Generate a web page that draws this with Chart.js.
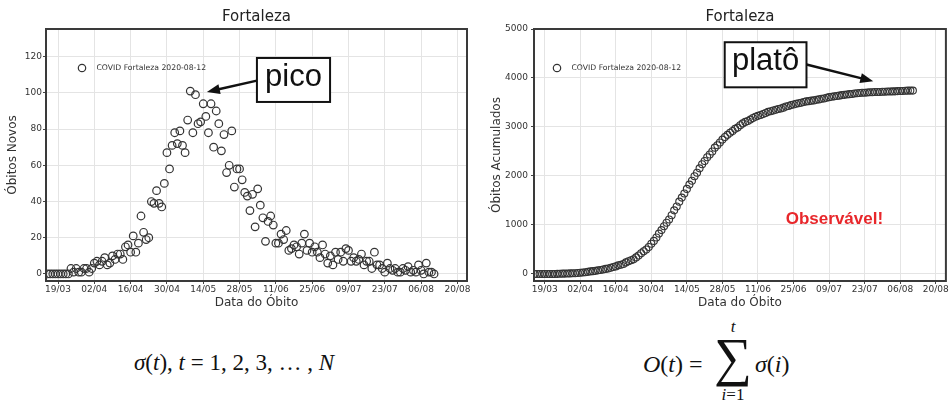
<!DOCTYPE html>
<html>
<head>
<meta charset="utf-8">
<script src="https://cdn.jsdelivr.net/npm/chart.js@4.4.1/dist/chart.umd.min.js"></script>
<style>
    html, body { margin: 0; padding: 0; background: #fff; }
    #page { position: relative; width: 951px; height: 400px; overflow: hidden; }
    canvas { position: absolute; top: 0; }
    #leftChart { left: 0; }
    #rightChart { left: 475px; }
    .formula {
        position: absolute;
        font-family: 'Liberation Serif', 'DejaVu Serif', serif;
        font-size: 23px;
        line-height: 1;
        color: #111;
        white-space: nowrap;
    }
    #formulaLeft { left: 134px; top: 351px; }
    #fO { left: 643px; top: 352px; font-size: 24px; }
    #fSigma { left: 711px; top: 331px; font-size: 53px; width: 44px; text-align: center; }
    #fTop { left: 711px; top: 318px; font-size: 17px; width: 44px; text-align: center; }
    #fBottom { left: 711px; top: 386px; font-size: 17px; width: 44px; text-align: center; }
    #fS { left: 755px; top: 352px; font-size: 24px; }
</style>
</head>
<body>
<div id="page">
    <canvas id="leftChart" width="475" height="310"></canvas>
    <canvas id="rightChart" width="476" height="310"></canvas>
    <div class="formula" id="formulaLeft"><i>σ</i>(<i>t</i>), <i>t</i> = 1, 2, 3, … , <i>N</i></div>
    <div class="formula" id="fO"><i>O</i>(<i>t</i>) =</div>
    <div class="formula" id="fTop"><i>t</i></div>
    <div class="formula" id="fSigma">∑</div>
    <div class="formula" id="fBottom"><i>i</i>=1</div>
    <div class="formula" id="fS"><i>σ</i>(<i>i</i>)</div>
</div>
<script>
// ---- data (days counted from 19/03/2020) ----
var firstDay = -4;
var tickDays = [0, 14, 28, 42, 56, 70, 84, 98, 112, 126, 140, 154];
var tickLabels = ['19/03', '02/04', '16/04', '30/04', '14/05', '28/05', '11/06', '25/06', '09/07', '23/07', '06/08', '20/08'];
var dailyTicks = [0, 20, 40, 60, 80, 100, 120];
var cumulativeTicks = [0, 1000, 2000, 3000, 4000, 5000];
var seriesLabel = 'COVID Fortaleza 2020-08-12';

var dailyDeaths = [
    0, 0, 0, 0, 0, 0, 0, 0, 0,
    3, 1, 3, 1, 1, 3, 3, 1, 3,
    6, 7, 5, 7, 9, 5, 6,
    10, 8, 11, 11, 8, 15, 16,
    12, 21, 12, 17, 32, 23, 19, 20,
    40, 39, 46, 39, 37, 50, 67, 58,
    71, 78, 72, 79, 71, 67, 85, 101,
    78, 99, 83, 84, 94, 87, 78, 94,
    70, 90, 83, 68, 77, 56, 60, 79,
    48, 58, 58, 52, 45, 43, 35, 44,
    26, 47, 38, 31, 18, 29, 32, 27,
    17, 17, 22, 19, 24, 13, 14, 16,
    15, 11, 17, 22, 13, 17, 12, 15,
    12, 9, 16, 11, 6, 10, 5, 12,
    8, 12, 7, 14, 13, 7, 9, 7,
    8, 11, 5, 7, 7, 3, 12, 5,
    5, 3, 1, 6, 3, 2, 3, 1,
    1, 3, 2, 4, 1, 2, 1, 5,
    2, 0, 6, 1, 1, 0
];

var cumulativeDeaths = [
    0, 0, 0, 0, 0, 0, 0, 0, 0,
    3, 4, 7, 8, 9, 12, 15, 16, 19,
    25, 32, 37, 44, 53, 58, 64,
    74, 82, 93, 104, 112, 127, 143,
    155, 176, 188, 205, 237, 260, 279, 299,
    339, 378, 424, 463, 500, 550, 617, 675,
    746, 824, 896, 975, 1046, 1113, 1198, 1299,
    1377, 1476, 1559, 1643, 1737, 1824, 1902, 1996,
    2066, 2156, 2239, 2307, 2384, 2440, 2500, 2579,
    2627, 2685, 2743, 2795, 2840, 2883, 2918, 2962,
    2988, 3035, 3073, 3104, 3122, 3151, 3183, 3210,
    3227, 3244, 3266, 3285, 3309, 3322, 3336, 3352,
    3367, 3378, 3395, 3417, 3430, 3447, 3459, 3474,
    3486, 3495, 3511, 3522, 3528, 3538, 3543, 3555,
    3563, 3575, 3582, 3596, 3609, 3616, 3625, 3632,
    3640, 3651, 3656, 3663, 3670, 3673, 3685, 3690,
    3695, 3698, 3699, 3705, 3708, 3710, 3713, 3714,
    3715, 3718, 3720, 3724, 3725, 3727, 3728, 3733,
    3735, 3735, 3741, 3742, 3743, 3743
];

Chart.defaults.font.family = 'DejaVu Sans';
Chart.defaults.color = '#333';
Chart.defaults.animation = false;

function toPoints(values) {
    return values.map(function (v, i) { return { x: firstDay + i, y: v }; });
}

// frame round the plot area (matplotlib box)
var framePlugin = {
    id: 'frame',
    afterDraw: function (chart) {
        var a = chart.chartArea, ctx = chart.ctx;
        ctx.save();
        ctx.strokeStyle = '#3a3a3a';
        ctx.lineWidth = 2;
        ctx.strokeRect(a.left, a.top, a.right - a.left, a.bottom - a.top);
        ctx.restore();
    }
};

// legend inside the axes + boxed notes with arrows
var notesPlugin = {
    id: 'notes',
    afterDraw: function (chart, args, opts) {
        var ctx = chart.ctx, a = chart.chartArea;
        var xs = chart.scales.x, ys = chart.scales.y;
        ctx.save();

        // legend
        var lx = a.left + opts.legend.dx, ly = a.top + opts.legend.dy;
        ctx.strokeStyle = '#333';
        ctx.lineWidth = 1.2;
        ctx.beginPath();
        ctx.arc(lx, ly, 3.7, 0, Math.PI * 2);
        ctx.stroke();
        ctx.fillStyle = '#333';
        ctx.font = '7.7px "DejaVu Sans"';
        ctx.textBaseline = 'middle';
        ctx.textAlign = 'left';
        ctx.fillText(seriesLabel, lx + 14.5, ly + 0.5);

        // box with big word
        var b = opts.box;
        var x0 = xs.getPixelForValue(b.x0), x1 = xs.getPixelForValue(b.x1);
        var y0 = ys.getPixelForValue(b.y0), y1 = ys.getPixelForValue(b.y1);
        ctx.fillStyle = '#fff';
        ctx.fillRect(x0, y1, x1 - x0, y0 - y1);
        ctx.strokeStyle = '#111';
        ctx.lineWidth = 2;
        ctx.strokeRect(x0, y1, x1 - x0, y0 - y1);
        ctx.fillStyle = '#111';
        ctx.font = '31px "Liberation Sans", Arial, sans-serif';
        ctx.textAlign = 'center';
        ctx.textBaseline = 'middle';
        ctx.fillText(b.text, (x0 + x1) / 2, (y0 + y1) / 2 - 3);

        // arrow
        var ar = opts.arrow;
        var sx = xs.getPixelForValue(ar.x0), sy = ys.getPixelForValue(ar.y0);
        var tx = xs.getPixelForValue(ar.x1), ty = ys.getPixelForValue(ar.y1);
        var ang = Math.atan2(ty - sy, tx - sx);
        var head = 13, half = 5;
        ctx.strokeStyle = '#111';
        ctx.lineWidth = 2.5;
        ctx.beginPath();
        ctx.moveTo(sx, sy);
        ctx.lineTo(tx - Math.cos(ang) * (head - 2), ty - Math.sin(ang) * (head - 2));
        ctx.stroke();
        ctx.beginPath();
        ctx.moveTo(tx, ty);
        ctx.lineTo(tx - Math.cos(ang) * head - Math.sin(ang) * half, ty - Math.sin(ang) * head + Math.cos(ang) * half);
        ctx.lineTo(tx - Math.cos(ang) * head + Math.sin(ang) * half, ty - Math.sin(ang) * head - Math.cos(ang) * half);
        ctx.closePath();
        ctx.fill();

        // extra red word
        if (opts.mark) {
            ctx.fillStyle = '#e8272b';
            ctx.font = 'bold 17px "Liberation Sans", Arial, sans-serif';
            ctx.fillText(opts.mark.text, xs.getPixelForValue(opts.mark.x), ys.getPixelForValue(opts.mark.y));
        }
        ctx.restore();
    }
};

function xAxis(min, max) {
    return {
        type: 'linear', min: min, max: max,
        afterBuildTicks: function (s) { s.ticks = tickDays.map(function (d) { return { value: d }; }); },
        afterFit: function (s) { s.height = 29; },
        ticks: {
            callback: function (v, i) { return tickLabels[i]; },
            font: { size: 9 }, color: '#333', padding: 0, maxRotation: 0, autoSkip: false
        },
        grid: { color: '#e4e4e4', tickLength: 3, tickColor: '#444' },
        border: { display: false },
        title: { display: true, text: 'Data do Óbito', font: { size: 12 }, color: '#333', padding: { top: 0, bottom: 0 } }
    };
}

function yAxis(min, max, ticks, label, width, titlePad, tickPad) {
    return {
        type: 'linear', min: min, max: max,
        afterBuildTicks: function (s) { s.ticks = ticks.map(function (v) { return { value: v }; }); },
        afterFit: function (s) { s.width = width; },
        ticks: {
            callback: function (v) { return String(v); },
            font: { size: 9 }, color: '#333', padding: tickPad
        },
        grid: { color: '#e4e4e4', tickLength: 3, tickColor: '#444' },
        border: { display: false },
        title: { display: true, text: label, font: { size: 12 }, color: '#333', padding: { top: titlePad, bottom: 0 } }
    };
}

function titleOpts() {
    return {
        display: true, text: 'Fortaleza', fullSize: false,
        font: { size: 15, weight: 'normal' }, color: '#222',
        padding: { top: 8, bottom: 3 }
    };
}

// ---- Left: daily deaths ----
new Chart(document.getElementById('leftChart'), {
    type: 'scatter',
    data: {
        datasets: [{
            label: seriesLabel,
            data: toPoints(dailyDeaths),
            pointRadius: 3.8,
            pointBorderWidth: 1.2,
            borderColor: '#333',
            backgroundColor: 'rgba(0,0,0,0)'
        }]
    },
    options: {
        responsive: false,
        layout: { padding: { left: 0, right: 8, top: 0, bottom: 0 } },
        plugins: {
            legend: { display: false },
            tooltip: { enabled: false },
            title: titleOpts(),
            notes: {
                legend: { dx: 36, dy: 39 },
                box: { text: 'pico', x0: 76.7, x1: 104.9, y0: 95, y1: 119.3 },
                arrow: { x0: 76.7, y0: 106.8, x1: 57.4, y1: 100.5 }
            }
        },
        scales: {
            x: xAxis(-4.63, 157.7),
            y: yAxis(-3.9, 135.3, dailyTicks, 'Óbitos Novos', 46, 6, 1)
        }
    },
    plugins: [framePlugin, notesPlugin]
});

// ---- Right: cumulative deaths ----
new Chart(document.getElementById('rightChart'), {
    type: 'scatter',
    data: {
        datasets: [{
            label: seriesLabel,
            data: toPoints(cumulativeDeaths),
            pointRadius: 3.5,
            pointBorderWidth: 1.1,
            borderColor: '#333',
            backgroundColor: 'rgba(0,0,0,0)'
        }]
    },
    options: {
        responsive: false,
        layout: { padding: { left: 0, right: 3, top: 0, bottom: 0 } },
        plugins: {
            legend: { display: false },
            tooltip: { enabled: false },
            title: titleOpts(),
            notes: {
                legend: { dx: 23, dy: 39 },
                box: { text: 'platô', x0: 70.9, x1: 103.1, y0: 3810, y1: 4730 },
                arrow: { x0: 103.1, y0: 4274, x1: 129.4, y1: 3933 },
                mark: { text: 'Observável!', x: 114.1, y: 1125 }
            }
        },
        scales: {
            x: xAxis(-4.2, 158),
            y: yAxis(-143, 5000, cumulativeTicks, 'Óbitos Acumulados', 59, 15, 3)
        }
    },
    plugins: [framePlugin, notesPlugin]
});
</script>
</body>
</html>
